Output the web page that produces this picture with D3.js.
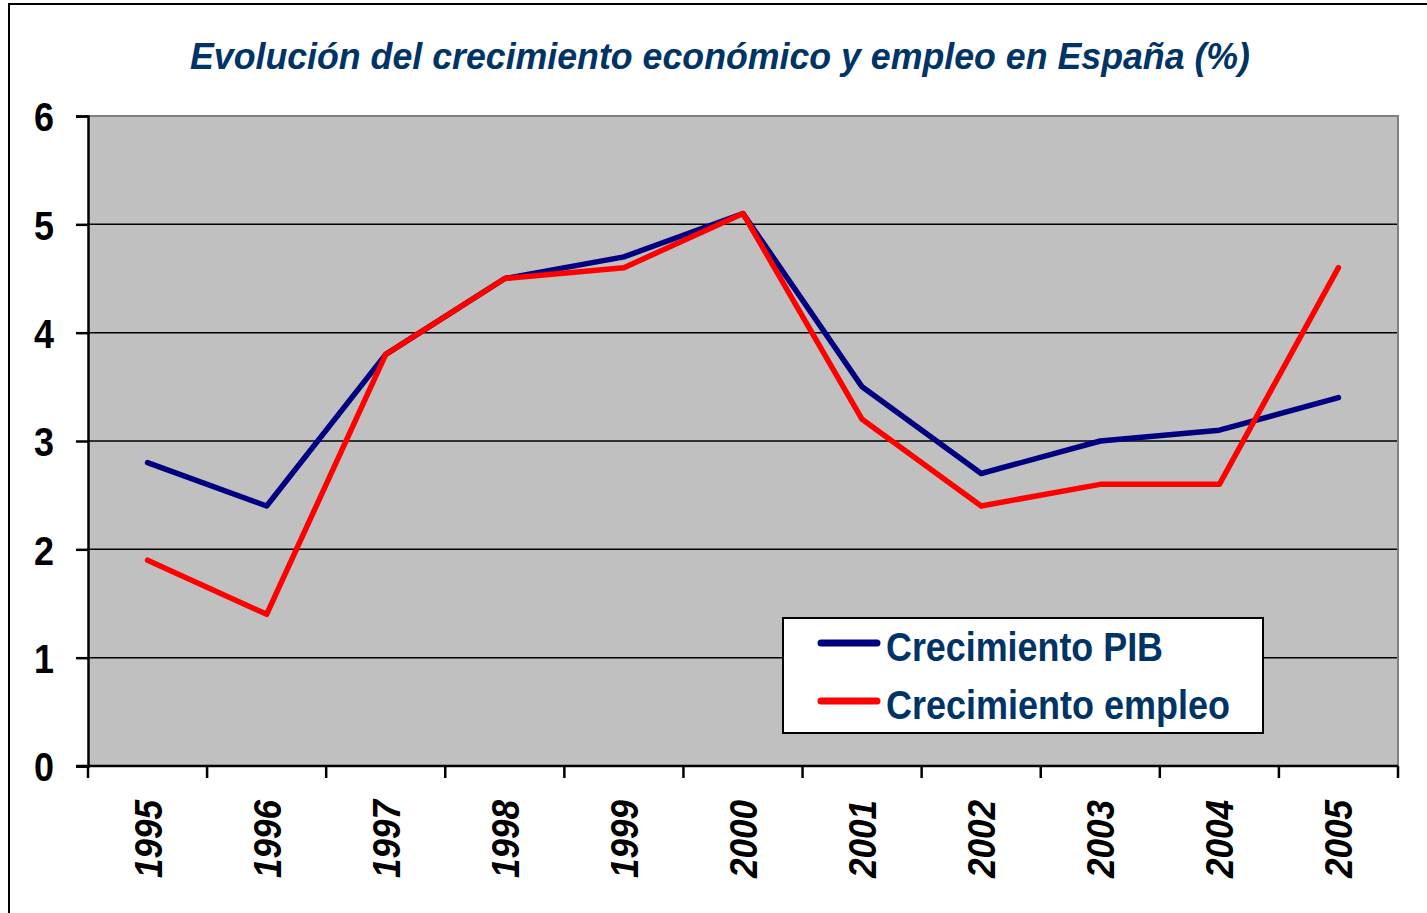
<!DOCTYPE html>
<html>
<head>
<meta charset="utf-8">
<script src="https://cdn.jsdelivr.net/npm/d3@7"></script>
<style>
  html, body { margin: 0; padding: 0; background: #fff; }
  svg { display: block; }
</style>
</head>
<body>
<script>
const years = ["1995","1996","1997","1998","1999","2000","2001","2002","2003","2004","2005"];
const pib = [2.8, 2.4, 3.8, 4.5, 4.7, 5.1, 3.5, 2.7, 3.0, 3.1, 3.4];
const empleo = [1.9, 1.4, 3.8, 4.5, 4.6, 5.1, 3.2, 2.4, 2.6, 2.6, 4.6];
const yTicks = [0, 1, 2, 3, 4, 5, 6];
const seriesNames = ["Crecimiento PIB", "Crecimiento empleo"];
const seriesColors = ["#000080", "#FF0000"];
const title = "Evolución del crecimiento económico y empleo en España (%)";

const W = 1427, H = 913;
const plot = { left: 88, right: 1398, top: 116, bottom: 766 };

const svg = d3.select("body").append("svg").attr("width", W).attr("height", H);

// outer frame
svg.append("rect").attr("x", 9).attr("y", 4).attr("width", 1600).attr("height", 1200)
  .attr("fill", "none").attr("stroke", "#000").attr("stroke-width", 2);

const x = d3.scaleBand().domain(years).range([plot.left, plot.right]).padding(0);
const y = d3.scaleLinear().domain([0, 6]).range([plot.bottom, plot.top]);

// plot background
svg.append("rect").attr("x", plot.left).attr("y", plot.top)
  .attr("width", plot.right - plot.left).attr("height", plot.bottom - plot.top)
  .attr("fill", "#C0C0C0");

// gridlines
svg.append("g").selectAll("line").data(yTicks.filter(d => d > 0 && d < 6)).join("line")
  .attr("x1", plot.left).attr("x2", plot.right)
  .attr("y1", d => y(d)).attr("y2", d => y(d))
  .attr("stroke", "#000").attr("stroke-width", 1.5);

// top and right border grey
svg.append("path")
  .attr("d", `M${plot.left},${y(6)}H${plot.right}V${plot.bottom}`)
  .attr("fill", "none").attr("stroke", "#808080").attr("stroke-width", 2);

// Y axis
const yAxis = d3.axisLeft(y).tickValues(yTicks).tickSize(12).tickPadding(22).tickFormat(d3.format("d"));
const gy = svg.append("g").attr("transform", `translate(${plot.left},0)`).call(yAxis);
gy.select(".domain").attr("stroke", "#000").attr("stroke-width", 2.5);
gy.selectAll(".tick line").attr("stroke", "#000").attr("stroke-width", 2.5);
gy.selectAll(".tick text")
  .attr("font-family", "Liberation Sans, Arial, sans-serif")
  .attr("font-weight", "bold").attr("font-size", 41).attr("fill", "#000")
  .attr("textLength", 20).attr("lengthAdjust", "spacingAndGlyphs")
  .attr("dy", "0.36em");

// X axis: ticks at band boundaries
const bounds = years.map(d => x(d)).concat([plot.right]);
svg.append("line").attr("x1", plot.left - 12).attr("x2", plot.right)
  .attr("y1", plot.bottom).attr("y2", plot.bottom)
  .attr("stroke", "#000").attr("stroke-width", 2.5);
svg.append("g").selectAll("line").data(bounds).join("line")
  .attr("x1", d => d).attr("x2", d => d)
  .attr("y1", plot.bottom).attr("y2", plot.bottom + 12)
  .attr("stroke", "#000").attr("stroke-width", 2.5);

svg.append("g").selectAll("text").data(years).join("text")
  .attr("transform", d => `translate(${x(d) + x.bandwidth() / 2 + 14},${plot.bottom + 34}) rotate(-90)`)
  .attr("text-anchor", "end")
  .attr("font-family", "Liberation Sans, Arial, sans-serif")
  .attr("font-weight", "bold").attr("font-style", "italic")
  .attr("font-size", 39).attr("fill", "#000")
  .attr("textLength", 78).attr("lengthAdjust", "spacingAndGlyphs")
  .text(d => d);

// lines
const line = d3.line().x((d, i) => x(years[i]) + x.bandwidth() / 2).y(d => y(d));
[pib, empleo].forEach((s, k) => {
  svg.append("path").datum(s).attr("d", line)
    .attr("fill", "none").attr("stroke", seriesColors[k]).attr("stroke-width", 5.5)
    .attr("stroke-linejoin", "round").attr("stroke-linecap", "round");
});

// title
svg.append("text").attr("x", 720).attr("y", 69).attr("text-anchor", "middle")
  .attr("font-family", "Liberation Sans, Arial, sans-serif")
  .attr("font-weight", "bold").attr("font-style", "italic")
  .attr("font-size", 37).attr("fill", "#003366")
  .attr("textLength", 1060).attr("lengthAdjust", "spacingAndGlyphs")
  .text(title);

// legend
const lg = svg.append("g");
lg.append("rect").attr("x", 783).attr("y", 618).attr("width", 480).attr("height", 115)
  .attr("fill", "#fff").attr("stroke", "#000").attr("stroke-width", 2);
const legY = [643, 701];
const legW = [277, 344];
seriesNames.forEach((n, k) => {
  lg.append("line").attr("x1", 821).attr("x2", 877).attr("y1", legY[k]).attr("y2", legY[k])
    .attr("stroke", seriesColors[k]).attr("stroke-width", 7).attr("stroke-linecap", "round");
  lg.append("text").attr("x", 886).attr("y", legY[k] + 18)
    .attr("font-family", "Liberation Sans Narrow, Arial Narrow, Liberation Sans, sans-serif")
    .attr("font-weight", "bold").attr("font-size", 41).attr("fill", "#003366")
    .attr("textLength", legW[k]).attr("lengthAdjust", "spacingAndGlyphs")
    .text(n);
});
</script>
</body>
</html>
